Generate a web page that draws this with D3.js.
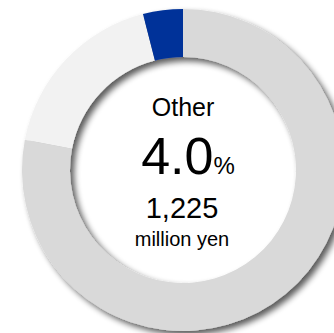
<!DOCTYPE html>
<html>
<head>
<meta charset="utf-8">
<script src="https://cdn.jsdelivr.net/npm/d3@7"></script>
<style>
  html, body { margin: 0; padding: 0; background: #fff; }
  svg { display: block; font-family: "Liberation Sans", Arial, sans-serif; }
</style>
</head>
<body>
<div id="chart-area"></div>
<script>
// segments, clockwise from 12 o'clock
const segments = ['Main', 'Second', 'Other'];
const shares = [78.0, 18.0, 4.0];
const colors = ['#d9d9d9', '#f2f2f2', '#003399'];

const label = 'Other';
const percentText = '4.0';
const amountText = '1,225';
const unitText = 'million yen';

let width = 334;
let height = 333;
let cx = 183;
let cy = 170;
let outer = 161;
let inner = 113;

let svg = d3
  .select('#chart-area')
  .append('svg')
  .attr('width', width)
  .attr('height', height);

//drop shadow for the ring
let filter = svg
  .append('defs')
  .append('filter')
  .attr('id', 'shadow')
  .attr('x', '-20%')
  .attr('y', '-20%')
  .attr('width', '140%')
  .attr('height', '140%');
filter.append('feGaussianBlur').attr('in', 'SourceAlpha').attr('stdDeviation', 3);
filter.append('feOffset').attr('dx', 4).attr('dy', 4).attr('result', 'off');
filter.append('feComponentTransfer').append('feFuncA').attr('type', 'linear').attr('slope', 0.65);
let merge = filter.append('feMerge');
merge.append('feMergeNode');
merge.append('feMergeNode').attr('in', 'SourceGraphic');

let pie = d3
  .pie()
  .sort(null)
  .value((d) => d);
let arc = d3.arc().innerRadius(inner).outerRadius(outer);

svg
  .append('g')
  .attr('transform', `translate(${cx}, ${cy})`)
  .attr('filter', 'url(#shadow)')
  .selectAll('path')
  .data(pie(shares))
  .enter()
  .append('path')
  .attr('d', arc)
  .attr('fill', (d, i) => colors[i]);

//centre texts
let center = svg.append('g').attr('fill', '#000').style('text-anchor', 'middle');
center.append('text').attr('x', 183).attr('y', 116).style('font-size', '25px').text(label);
let pct = center.append('text').attr('x', 188).attr('y', 174);
pct.append('tspan').style('font-size', '52px').text(percentText);
pct.append('tspan').style('font-size', '24px').text('%');
center.append('text').attr('x', 182).attr('y', 218).style('font-size', '29px').text(amountText);
center.append('text').attr('x', 182).attr('y', 246).style('font-size', '20px').text(unitText);
</script>
</body>
</html>
